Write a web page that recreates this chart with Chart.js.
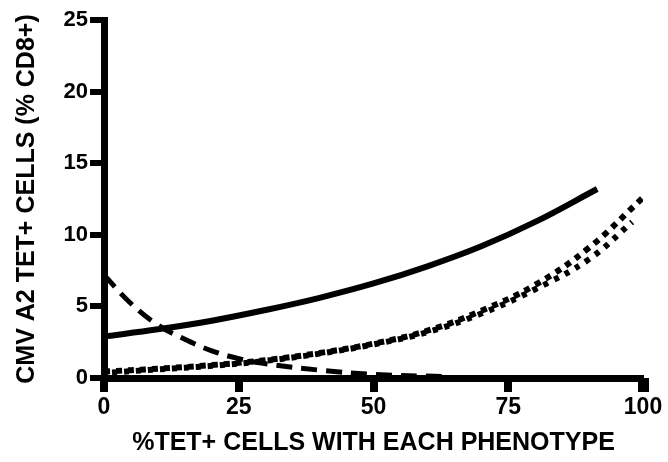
<!DOCTYPE html>
<html>
<head>
<meta charset="utf-8">
<script src="https://cdn.jsdelivr.net/npm/chart.js@4/dist/chart.umd.min.js"></script>
<style>
  html, body { margin: 0; padding: 0; background: #fff; }
  #wrap { width: 668px; height: 462px; }
</style>
</head>
<body>
<div id="wrap"><canvas id="grafica" width="668" height="462"></canvas></div>
<script>
// curva continua
const solidX = [0, 10, 20, 30, 40, 50, 60, 70, 80, 91.5];
const solidY = [2.9, 3.4, 4.0, 4.75, 5.6, 6.6, 7.8, 9.2, 10.9, 13.2];

// curva con rayas largas (decreciente)
const dashX = [0, 5, 10, 15, 20, 25, 30, 40, 50, 63];
const dashY = [7.2, 5.2, 3.7, 2.7, 1.9, 1.35, 1.0, 0.55, 0.25, 0.1];

// curvas punteadas
const dotAX = [0, 10, 20, 30, 40, 50, 60, 70, 80, 90, 100];
const dotAY = [0.45, 0.65, 0.9, 1.25, 1.75, 2.4, 3.3, 4.7, 6.5, 9.1, 12.6];
const dotBX = [0, 10, 20, 30, 40, 50, 60, 70, 80, 90, 98];
const dotBY = [0.35, 0.6, 0.85, 1.2, 1.7, 2.35, 3.2, 4.5, 6.2, 8.3, 10.9];

const xTicks = [0, 25, 50, 75, 100];
const yTicks = [0, 5, 10, 15, 20, 25];

const puntos = (xs, ys) => xs.map((x, i) => ({ x: x, y: ys[i] }));

const fuente = 'Liberation Sans, Arial, Helvetica, sans-serif';

// marcas gruesas de los ejes (estilo Prism)
const marcasGruesas = {
  id: 'marcasGruesas',
  afterDraw(chart) {
    const c = chart.ctx;
    const area = chart.chartArea;
    const sx = chart.scales.x, sy = chart.scales.y;
    c.save();
    c.fillStyle = '#000';
    xTicks.forEach(v => {
      const px = sx.getPixelForValue(v);
      const w = v === 100 ? 11 : 8;
      c.fillRect(Math.round(px - w / 2), area.bottom, w, 14);
    });
    yTicks.forEach(v => {
      const py = sy.getPixelForValue(v);
      c.fillRect(area.left - 14, Math.round(py - 3), 14, 6);
    });
    c.restore();
  }
};

const ctx = document.getElementById('grafica').getContext('2d');

new Chart(ctx, {
  type: 'line',
  data: {
    datasets: [
      {
        data: puntos(solidX, solidY),
        borderColor: '#000',
        borderWidth: 6,
        pointRadius: 0,
        tension: 0.4,
        fill: false
      },
      {
        data: puntos(dashX, dashY),
        borderColor: '#000',
        borderWidth: 5,
        borderDash: [16, 9],
        pointRadius: 0,
        tension: 0.4,
        fill: false
      },
      {
        data: puntos(dotAX, dotAY),
        borderColor: '#000',
        borderWidth: 6,
        borderDash: [6, 6],
        pointRadius: 0,
        tension: 0.4,
        fill: false
      },
      {
        data: puntos(dotBX, dotBY),
        borderColor: '#000',
        borderWidth: 6,
        borderDash: [5, 7],
        borderDashOffset: 4,
        pointRadius: 0,
        tension: 0.4,
        fill: false
      }
    ]
  },
  options: {
    responsive: false,
    animation: false,
    layout: { padding: { top: 20, right: 25, left: 0, bottom: 0 } },
    plugins: {
      legend: { display: false },
      tooltip: { enabled: false }
    },
    scales: {
      x: {
        type: 'linear',
        min: 0,
        max: 100,
        afterBuildTicks: (s) => { s.ticks = xTicks.map(v => ({ value: v })); },
        afterFit: (s) => { s.height = 84; },
        border: { display: true, width: 7, color: '#000' },
        grid: {
          drawOnChartArea: false, drawTicks: true, tickLength: 12,
          color: '#000', tickColor: '#000'
        },
        ticks: {
          color: '#000',
          padding: 4,
          maxRotation: 0,
          font: { family: fuente, size: 23, weight: 'bold' }
        },
        title: {
          display: true,
          text: '%TET+ CELLS WITH EACH PHENOTYPE',
          color: '#000',
          padding: { top: 0, bottom: 4 },
          font: { family: fuente, size: 25, weight: 'bold' }
        }
      },
      y: {
        type: 'linear',
        min: 0,
        max: 25,
        afterBuildTicks: (s) => { s.ticks = yTicks.map(v => ({ value: v })); },
        afterFit: (s) => { s.width = 104; },
        border: { display: true, width: 7, color: '#000' },
        grid: {
          drawOnChartArea: false, drawTicks: true, tickLength: 12,
          color: '#000', tickColor: '#000'
        },
        ticks: {
          color: '#000',
          padding: 4,
          font: { family: fuente, size: 22, weight: 'bold' }
        },
        title: {
          display: true,
          text: 'CMV A2 TET+ CELLS (% CD8+)',
          color: '#000',
          padding: { top: 12, bottom: 0 },
          font: { family: fuente, size: 25, weight: 'bold' }
        }
      }
    }
  },
  plugins: [marcasGruesas]
});
</script>
</body>
</html>
